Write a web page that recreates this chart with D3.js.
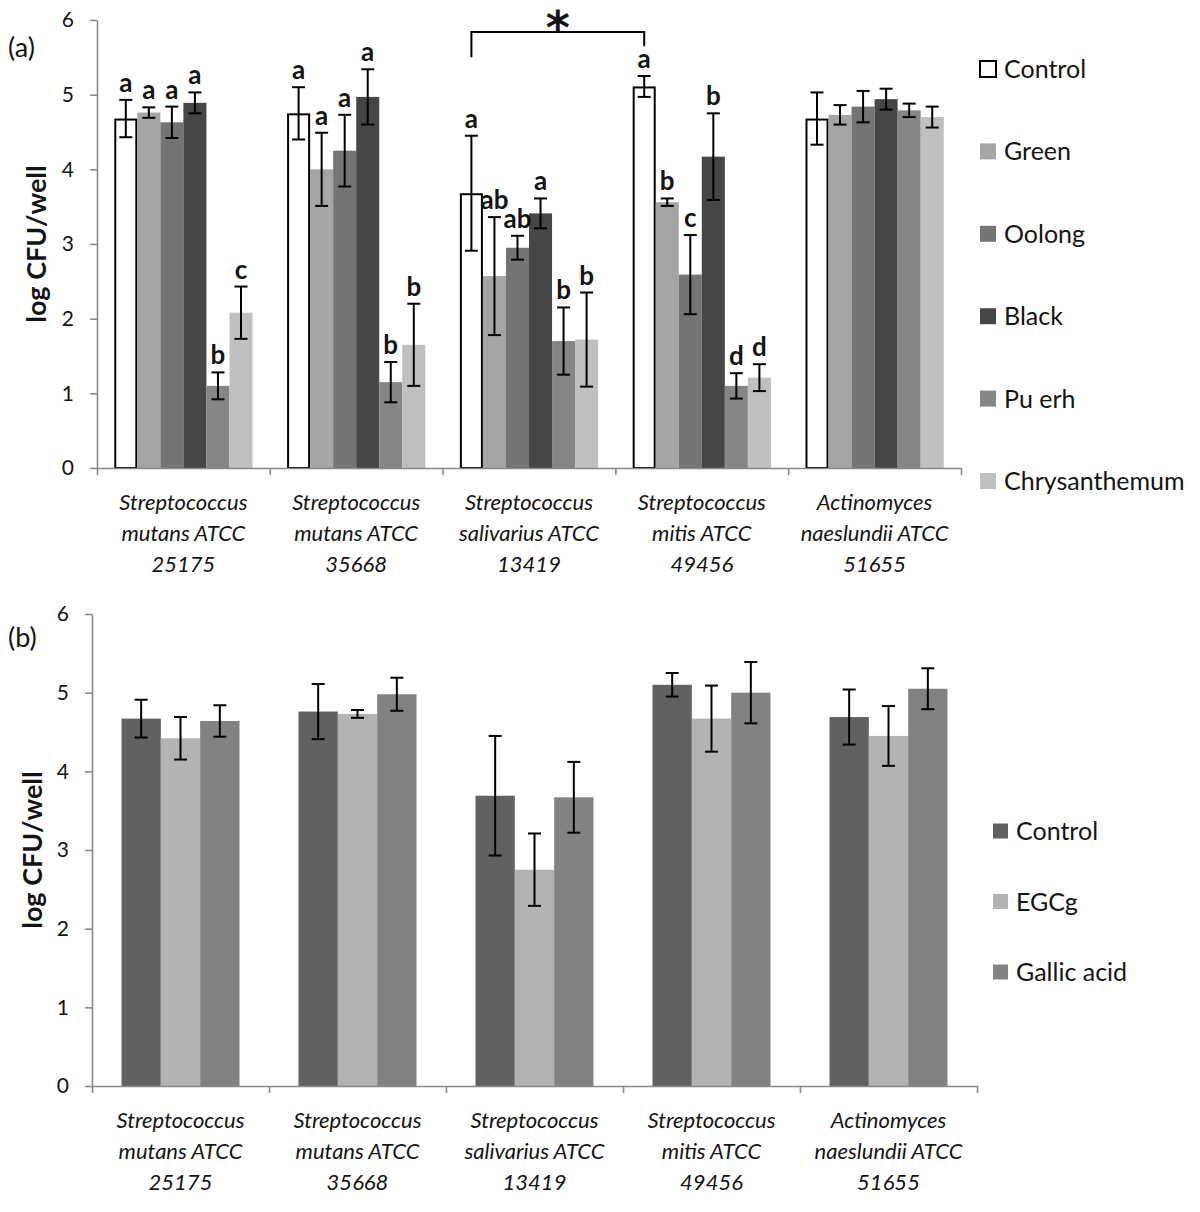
<!DOCTYPE html>
<html>
<head>
<meta charset="utf-8">
<script src="https://cdn.jsdelivr.net/npm/d3@7"></script>
<style>
  html, body { margin: 0; padding: 0; background: #ffffff; }
  svg { display: block; }
  text { font-family: Lato, "Open Sans", "DejaVu Sans", sans-serif; fill: #141414; }
</style>
</head>
<body>
<svg id="chart" width="1200" height="1212"></svg>
<script>
// ---------------- data ----------------
const categories = [
  ["Streptococcus", "mutans ATCC", "25175"],
  ["Streptococcus", "mutans ATCC", "35668"],
  ["Streptococcus", "salivarius ATCC", "13419"],
  ["Streptococcus", "mitis ATCC", "49456"],
  ["Actinomyces", "naeslundii ATCC", "51655"]
];
const yTicks = [0, 1, 2, 3, 4, 5, 6];

// panel (a) : tea extracts
const teaSeries = ["Control", "Green", "Oolong", "Black", "Pu erh", "Chrysanthemum"];
const teaColors = ["#ffffff", "#a5a5a5", "#747474", "#464646", "#868686", "#c0c0c0"];
const teaMeans = [
  [4.68, 4.76, 4.63, 4.89, 1.10, 2.08],
  [4.75, 4.00, 4.25, 4.97, 1.15, 1.65],
  [3.68, 2.57, 2.95, 3.41, 1.70, 1.72],
  [5.11, 3.56, 2.59, 4.17, 1.10, 1.21],
  [4.68, 4.73, 4.84, 4.94, 4.79, 4.70]
];
const teaErr = [
  [0.25, 0.07, 0.21, 0.14, 0.18, 0.35],
  [0.35, 0.49, 0.48, 0.37, 0.27, 0.55],
  [0.77, 0.79, 0.16, 0.20, 0.45, 0.63],
  [0.14, 0.05, 0.53, 0.58, 0.17, 0.18],
  [0.35, 0.13, 0.21, 0.14, 0.09, 0.14]
];
const teaLetters = [
  ["a", "a", "a", "a", "b", "c"],
  ["a", "a", "a", "a", "b", "b"],
  ["a", "ab", "ab", "a", "b", "b"],
  ["a", "b", "c", "b", "d", "d"],
  ["", "", "", "", "", ""]
];

// panel (b) : pure compounds
const compSeries = ["Control", "EGCg", "Gallic acid"];
const compColors = ["#616161", "#b3b3b3", "#828282"];
const compMeans = [
  [4.67, 4.42, 4.64],
  [4.76, 4.73, 4.98],
  [3.69, 2.75, 3.67],
  [5.10, 4.67, 5.00],
  [4.69, 4.45, 5.05]
];
const compErr = [
  [0.24, 0.27, 0.20],
  [0.35, 0.05, 0.21],
  [0.76, 0.46, 0.45],
  [0.15, 0.42, 0.39],
  [0.35, 0.38, 0.26]
];

// ---------------- drawing ----------------
const svg = d3.select("#chart");
svg.append("rect").attr("width", 1200).attr("height", 1212).attr("fill", "#fff");

function drawPanel(opt) {
  const g = svg.append("g");
  const catIdx = d3.range(categories.length);
  const x0 = d3.scaleBand().domain(catIdx).range([opt.left, opt.right]).paddingInner(0).paddingOuter(0);
  const x1 = d3.scaleBand().domain(d3.range(opt.series.length)).range([0, x0.bandwidth()])
    .paddingInner(0).paddingOuter(0.75);
  const y = d3.scaleLinear().domain([0, 6]).range([opt.bottom, opt.top]);

  // y axis
  const ya = g.append("g").attr("transform", `translate(${opt.left},0)`)
    .call(d3.axisLeft(y).tickValues(yTicks).tickFormat(d3.format("d")).tickSize(7).tickSizeOuter(0).tickPadding(16));
  ya.select(".domain").attr("stroke", "#898989").attr("stroke-width", 1.6);
  ya.selectAll(".tick line").attr("stroke", "#898989").attr("stroke-width", 1.6);
  ya.selectAll(".tick text").style("font-size", "21px").attr("fill", "#222").style("font-family", "Lato, sans-serif");

  // bars
  catIdx.forEach(ci => {
    const cg = g.append("g").attr("transform", `translate(${x0(ci)},0)`);
    opt.series.forEach((s, si) => {
      const v = opt.means[ci][si];
      const bx = x1(si), bw = x1.bandwidth();
      const r = cg.append("rect")
        .attr("x", bx).attr("width", bw)
        .attr("y", y(v)).attr("height", y(0) - y(v))
        .attr("fill", opt.colors[si]);
      if (opt.colors[si] === "#ffffff") {
        r.attr("x", bx + 1).attr("width", bw - 2).attr("y", y(v) + 1).attr("height", y(0) - y(v) - 1)
         .attr("stroke", "#000").attr("stroke-width", 2);
      }
    });
    // error bars
    opt.series.forEach((s, si) => {
      const v = opt.means[ci][si], e = opt.err[ci][si];
      const cx = x1(si) + x1.bandwidth() / 2;
      const eg = cg.append("g").attr("stroke", "#000").attr("stroke-width", 2).attr("fill", "none");
      eg.append("line").attr("x1", cx).attr("x2", cx).attr("y1", y(v + e)).attr("y2", y(v - e));
      eg.append("line").attr("x1", cx - 6.5).attr("x2", cx + 6.5).attr("y1", y(v + e)).attr("y2", y(v + e));
      eg.append("line").attr("x1", cx - 6.5).attr("x2", cx + 6.5).attr("y1", y(v - e)).attr("y2", y(v - e));
      if (opt.letters && opt.letters[ci][si]) {
        cg.append("text").attr("x", cx).attr("y", y(v + e) - 8)
          .attr("text-anchor", "middle").style("font-size", "26px").style("font-weight", "bold")
          .text(opt.letters[ci][si]);
      }
    });
  });

  // x axis (category boundary ticks)
  const xb = d3.scaleLinear().domain([0, categories.length]).range([opt.left, opt.right]);
  const xa = g.append("g").attr("transform", `translate(0,${opt.bottom})`)
    .call(d3.axisBottom(xb).tickValues(d3.range(categories.length + 1)).tickSize(7).tickSizeOuter(0).tickFormat(""));
  xa.select(".domain").attr("stroke", "#898989").attr("stroke-width", 1.6);
  xa.selectAll(".tick line").attr("stroke", "#898989").attr("stroke-width", 1.6);

  // category labels
  catIdx.forEach(ci => {
    const t = g.append("text").attr("text-anchor", "middle")
      .style("font-size", "22px").style("font-style", "italic").attr("fill", "#1a1a1a");
    categories[ci].forEach((line, li) => {
      t.append("tspan").attr("x", x0(ci) + x0.bandwidth() / 2).attr("y", opt.bottom + 42 + li * 31).text(line);
    });
  });

  // y title
  g.append("text")
    .attr("transform", `translate(${opt.titleX},${(opt.top + opt.bottom) / 2}) rotate(-90)`)
    .attr("text-anchor", "middle").attr("dy", "0.35em")
    .style("font-size", "27px").style("font-weight", "bold")
    .text("log CFU/well");

  // panel letter
  g.append("text").attr("x", opt.tagX).attr("y", opt.tagY).style("font-size", "27px").text(opt.tag);

  // legend
  opt.series.forEach((s, si) => {
    const ly = opt.legendY0 + si * opt.legendStep;
    const sq = opt.legendSq;
    const r = g.append("rect").attr("x", opt.legendX).attr("y", ly - sq / 2).attr("width", sq).attr("height", sq)
      .attr("fill", opt.colors[si]);
    if (opt.colors[si] === "#ffffff") r.attr("stroke", "#000").attr("stroke-width", 2);
    g.append("text").attr("x", opt.legendX + sq + 8).attr("y", ly).attr("dy", "0.36em")
      .style("font-size", "25px").text(s);
  });

  return { x0, x1, y };
}

const A = drawPanel({
  left: 97, right: 961, top: 20, bottom: 468,
  series: teaSeries, colors: teaColors, means: teaMeans, err: teaErr, letters: teaLetters,
  titleX: 37, tag: "(a)", tagX: 8, tagY: 57,
  legendX: 980, legendY0: 69, legendStep: 82.4, legendSq: 16
});

// significance bracket between S. salivarius and S. mitis controls
{
  const { x0, x1, y } = A;
  const xl = x0(2) + x1(0) + x1.bandwidth() / 2;
  const xr = x0(3) + x1(0) + x1.bandwidth() / 2;
  svg.append("path")
    .attr("d", `M${xl},${y(5.5)}V${y(5.84)}H${xr}V${y(5.65)}`)
    .attr("fill", "none").attr("stroke", "#000").attr("stroke-width", 2);
  svg.append("text").attr("x", (xl + xr) / 2).attr("y", 44).attr("text-anchor", "middle")
    .style("font-size", "46px").style("font-weight", "bold").style("font-family", "'DejaVu Sans', sans-serif")
    .text("*");
}

drawPanel({
  left: 92, right: 977, top: 614, bottom: 1086,
  series: compSeries, colors: compColors, means: compMeans, err: compErr, letters: null,
  titleX: 33, tag: "(b)", tagX: 8, tagY: 647,
  legendX: 993, legendY0: 831, legendStep: 70.5, legendSq: 15
});
</script>
</body>
</html>
